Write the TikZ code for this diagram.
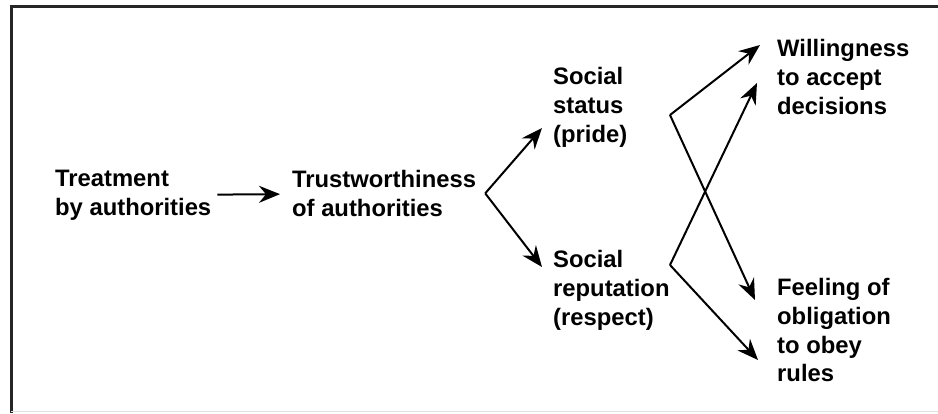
\documentclass[tikz,border=0pt]{standalone}
\usepackage{fontspec}
\setmainfont{Liberation Sans}
\usetikzlibrary{arrows.meta,positioning,calc}
\tikzset{
  box/.style={anchor=north west,inner sep=0pt,align=left,
    font=\fontsize{23.8}{28.8}\selectfont\bfseries},
  arr/.style={-{Stealth[length=21pt,width=17pt,inset=7pt]},line width=2pt}
}
\begin{document}
\begin{tikzpicture}[x=1pt,y=1pt]
   \useasboundingbox (0,0) rectangle (938,-413);
   % frame
   \draw[line width=3pt,black!85] (11,-413) -- (11,-6) -- (938,-6);
   \draw[line width=0.8pt,black!12] (11,-411) -- (938,-411);
   % nodes
   \node[box] (treat)  at (55,-170)  {Treatment\\by authorities};
   \node[box] (trust)  at (292,-170) {Trustworthiness\\of authorities};
   \node[box] (status) at (553,-67)  {Social\\status\\(pride)};
   \node[box] (rep)    at (553,-250) {Social\\reputation\\(respect)};
   \node[box] (will)   at (777,-39)  {Willingness\\to accept\\decisions};
   \node[box] (feel)   at (777,-278) {Feeling of\\obligation\\to obey\\rules};
   % branch points
   \coordinate (v1) at ($(trust.east)+(9,0)$);
   \coordinate (v2) at (670,-115);
   \coordinate (v3) at (670,-265);
   % connectors
   \draw[arr,shorten <=6pt,shorten >=12pt] (treat) -- (trust);
   \draw[arr] (v1) -- ($(status.north west)+(-11,-61)$);
   \draw[arr] (v1) -- ($(rep.north west)+(-11,-17)$);
   \draw[arr] (v2) -- ($(will.north west)+(-17,-6)$);
   \draw[arr] (v2) -- ($(feel.north west)+(-22,-22)$);
   \draw[arr] (v3) -- ($(will.north west)+(-20,-44)$);
   \draw[arr] (v3) -- ($(feel.north west)+(-19,-82)$);
\end{tikzpicture}
\end{document}
